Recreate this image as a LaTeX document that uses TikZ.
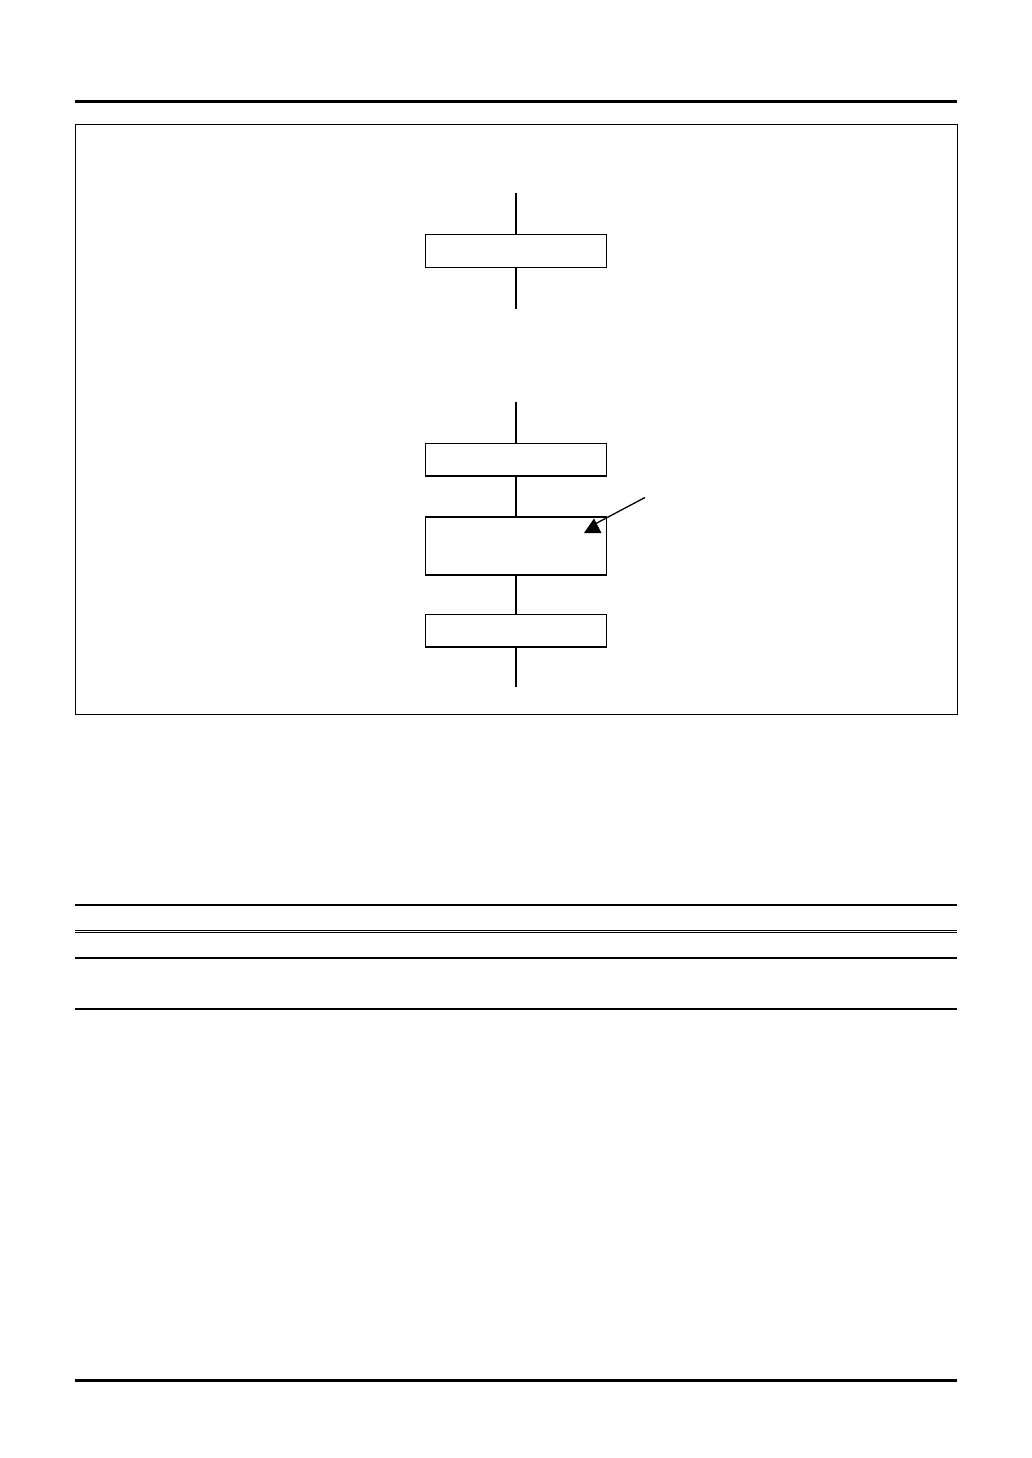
\documentclass[tikz,border=0pt]{standalone}
\begin{document}
\begin{tikzpicture}[x=1pt,y=-1pt,
  flowbox/.style={draw,line width=1.6pt,minimum width=181pt,minimum height=#1,inner sep=0pt,outer sep=0pt,anchor=north west},
  flowbox/.default=33pt,
  wire/.style={line width=1.6pt},
  thickrule/.style={line width=3pt},
  midrule/.style={line width=2.2pt},
  thinrule/.style={line width=1.1pt}]
\useasboundingbox[fill=white] (0,0) rectangle (1032,1458);
% page rules
\draw[thickrule] (75,101.5) -- (957,101.5);
\draw[thickrule] (75,1380) -- (957,1380);
% frame
\draw[line width=1pt] (75,124.5) rectangle (957,714);
% first flow
\node[flowbox=33pt] (box1) at (425.5,234.5) {};
\coordinate (t1) at (box1.north |- 0,193);
\coordinate (b1) at (box1.south |- 0,309);
\draw[wire] (t1) -- (box1.north);
\draw[wire] (box1.south) -- (b1);
% second flow
\node[flowbox=32.5pt] (box2) at (425.5,443.5) {};
\node[flowbox=58pt] (box3) at (425.5,517) {};
\node[flowbox=32.5pt] (box4) at (425.5,614.5) {};
\coordinate (t2) at (box2.north |- 0,401.5);
\coordinate (b2) at (box4.south |- 0,687);
\draw[wire] (t2) -- (box2.north);
\draw[wire] (box2.south) -- (box3.north);
\draw[wire] (box3.south) -- (box4.north);
\draw[wire] (box4.south) -- (b2);
% pointer arrow
\coordinate (ptrA) at (645,497.5);
\coordinate (ptrB) at (594,524.5);
\draw[line width=1.3pt] (ptrA) -- (ptrB);
\fill (584,533) -- (601.5,533) -- (594,518.5) -- cycle;
% table rules
\draw[midrule] (75,905.3) -- (957,905.3);
\draw[line width=0.9pt] (75,930) -- (957,930);
\draw[line width=0.9pt] (75,932.6) -- (957,932.6);
\draw[thinrule] (75,958) -- (957,958);
\draw[midrule] (75,1008.7) -- (957,1008.7);
\end{tikzpicture}
\end{document}
